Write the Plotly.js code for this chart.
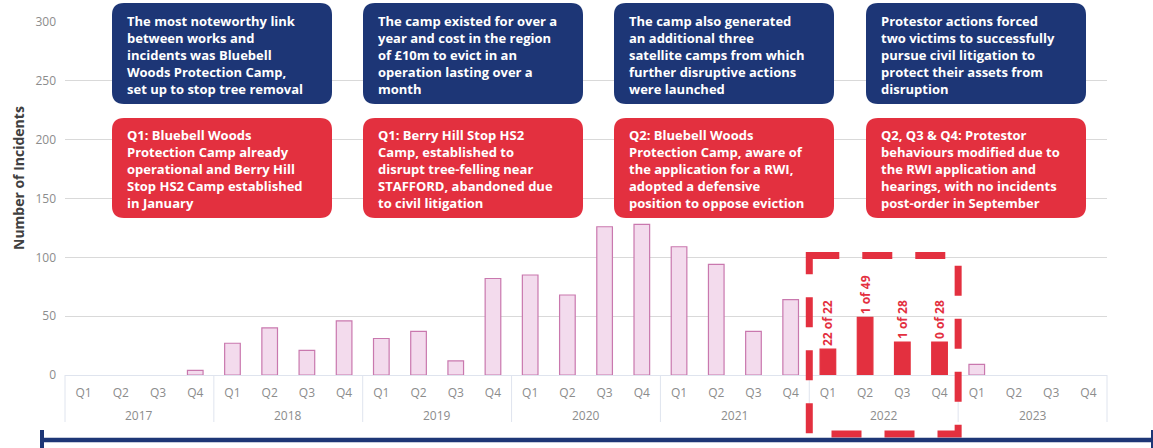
<!DOCTYPE html>
<html>
<head>
<meta charset="utf-8">
<script src="https://cdn.plot.ly/plotly-3.0.1.min.js"></script>
<style>html,body{margin:0;padding:0;background:#fff;}#chart{width:1153px;height:448px;}</style>
</head>
<body>
<div id="chart"></div>
<script>
// ---- data ----
var years = ['2017','2018','2019','2020','2021','2022','2023'];
var quarters = ['Q1','Q2','Q3','Q4'];
var incidents = [
  0, 0, 0, 4,        // 2017
  27, 40, 21, 46,    // 2018
  31, 37, 12, 82,    // 2019
  85, 68, 126, 128,  // 2020
  109, 94, 37, 64,   // 2021
  22, 49, 28, 28,    // 2022
  9, 0, 0, 0         // 2023
];
var highlightYear = '2022';
var highlightLabels = ['22 of 22', '1 of 49', '1 of 28', '0 of 28'];
var yTicks = [0, 50, 100, 150, 200, 250, 300];
var topNotes = [
  'The most noteworthy link<br>between works and<br>incidents was Bluebell<br>Woods Protection Camp,<br>set up to stop tree removal',
  'The camp existed for over a<br>year and cost in the region<br>of £10m to evict in an<br>operation lasting over a<br>month',
  'The camp also generated<br>an additional three<br>satellite camps from which<br>further disruptive actions<br>were launched',
  'Protestor actions forced<br>two victims to successfully<br>pursue civil litigation to<br>protect their assets from<br>disruption'
];
var bottomNotes = [
  'Q1: Bluebell Woods<br>Protection Camp already<br>operational and Berry Hill<br>Stop HS2 Camp established<br>in January',
  'Q1: Berry Hill Stop HS2<br>Camp, established to<br>disrupt tree-felling near<br>STAFFORD, abandoned due<br>to civil litigation',
  'Q2: Bluebell Woods<br>Protection Camp, aware of<br>the application for a RWI,<br>adopted a defensive<br>position to oppose eviction',
  'Q2, Q3 & Q4: Protestor<br>behaviours modified due to<br>the RWI application and<br>hearings, with no incidents<br>post-order in September'
];

// ---- build ----
var W = 1153, H = 448;
var M = {l: 65, r: 46, t: 22, b: 73};
var PW = W - M.l - M.r, PH = H - M.t - M.b;
function px(x){ return (x - M.l) / PW; }
function py(y){ return (H - M.b - y) / PH; }

var NAVY = '#1d3676', RED = '#e3303f', PINK = '#f3dbed', PINKLINE = '#c978ae';
var AXISLINE = '#dfe4ee', TICKGREY = '#8c8c8c';

var xKeys = [], xQ = [], colors = [], lineColors = [], lineWidths = [], texts = [];
var k = 0;
years.forEach(function(y){
  quarters.forEach(function(q, qi){
    xKeys.push(y + ' ' + q); xQ.push(q);
    var hi = (y === highlightYear);
    colors.push(hi ? RED : PINK);
    lineColors.push(hi ? RED : PINKLINE);
    lineWidths.push(incidents[k] > 0 ? 1.2 : 0);
    texts.push(hi ? highlightLabels[qi] : '');
    k++;
  });
});
var nCat = xKeys.length;
var perYear = quarters.length;

var trace = {
  type: 'bar',
  x: xKeys,
  y: incidents,
  marker: {color: colors, line: {color: lineColors, width: lineWidths}},
  text: texts,
  textposition: 'outside',
  textangle: -90,
  constraintext: 'none',
  cliponaxis: false,
  textfont: {family: 'Open Sans', size: 12, color: RED, weight: 'bold'},
  hoverinfo: 'x+y'
};

function roundRect(x0, y0, x1, y1, r){
  var rx = r / PW, ry = r / PH;
  var L = px(x0), R = px(x1), T = py(y0), B = py(y1);
  return 'M' + (L+rx) + ',' + T + ' L' + (R-rx) + ',' + T +
    ' Q' + R + ',' + T + ' ' + R + ',' + (T-ry) +
    ' L' + R + ',' + (B+ry) + ' Q' + R + ',' + B + ' ' + (R-rx) + ',' + B +
    ' L' + (L+rx) + ',' + B + ' Q' + L + ',' + B + ' ' + L + ',' + (B+ry) +
    ' L' + L + ',' + (T-ry) + ' Q' + L + ',' + T + ' ' + (L+rx) + ',' + T + ' Z';
}

var shapes = [], annotations = [];

// year group labels and dividers
for (var j = 0; j <= years.length; j++){
  var xd = (j * perYear) / nCat;
  shapes.push({type: 'line', xref: 'paper', yref: 'paper', layer: 'below',
    x0: xd, x1: xd, y0: py(375), y1: py(422), line: {color: AXISLINE, width: 1}});
}
years.forEach(function(y, j){
  annotations.push({xref: 'x', yref: 'paper', x: j * perYear + (perYear - 1) / 2, y: py(415),
    xanchor: 'center', yanchor: 'middle', showarrow: false, text: y,
    font: {family: 'Open Sans', size: 12, color: TICKGREY}});
});

var boxLeft = [112, 363, 614, 866], boxW = 220;
var topBox = [3, 104], botBox = [118, 218];
for (var i = 0; i < 4; i++){
  shapes.push({type: 'path', xref: 'paper', yref: 'paper', layer: 'above',
    path: roundRect(boxLeft[i], topBox[0], boxLeft[i] + boxW, topBox[1], 12),
    fillcolor: NAVY, line: {width: 0}});
  shapes.push({type: 'path', xref: 'paper', yref: 'paper', layer: 'above',
    path: roundRect(boxLeft[i], botBox[0], boxLeft[i] + boxW, botBox[1], 12),
    fillcolor: RED, line: {width: 0}});
  annotations.push({xref: 'paper', yref: 'paper', x: px(boxLeft[i] + 13), y: py((topBox[0] + topBox[1]) / 2 + 1),
    xanchor: 'left', yanchor: 'middle', align: 'left', showarrow: false, text: topNotes[i],
    font: {family: 'Open Sans', size: 13, color: '#ffffff', weight: 'bold'}});
  annotations.push({xref: 'paper', yref: 'paper', x: px(boxLeft[i] + 13), y: py((botBox[0] + botBox[1]) / 2 + 1),
    xanchor: 'left', yanchor: 'middle', align: 'left', showarrow: false, text: bottomNotes[i],
    font: {family: 'Open Sans', size: 13, color: '#ffffff', weight: 'bold'}});
}

// dashed highlight rectangle around the highlighted year
var hiYearIdx = years.indexOf(highlightYear);
var hx0 = (hiYearIdx * perYear) / nCat, hx1 = ((hiYearIdx + 1) * perYear) / nCat;
var hyT = py(255.5), hyB = py(434);
shapes.push({type: 'path', xref: 'paper', yref: 'paper', layer: 'above',
  path: 'M' + hx0 + ',' + hyT + ' L' + hx1 + ',' + hyT + ' L' + hx1 + ',' + hyB + ' L' + hx0 + ',' + hyB + ' Z',
  line: {color: RED, width: 7, dash: '30px,23px'}});

// navy timeline at bottom
var lineY = py(440);
shapes.push({type: 'line', xref: 'paper', yref: 'paper', x0: px(42), x1: px(1152), y0: lineY, y1: lineY,
  line: {color: NAVY, width: 4.5}});
shapes.push({type: 'line', xref: 'paper', yref: 'paper', x0: px(42), x1: px(42), y0: py(430), y1: py(452),
  line: {color: NAVY, width: 4}});
shapes.push({type: 'line', xref: 'paper', yref: 'paper', x0: px(1152), x1: px(1152), y0: py(430), y1: py(452),
  line: {color: NAVY, width: 2}});

// y-axis title
annotations.push({xref: 'paper', yref: 'paper', x: px(18), y: py(178), textangle: -90,
  xanchor: 'center', yanchor: 'middle', showarrow: false, text: 'Number of Incidents',
  font: {family: 'Open Sans', size: 14, color: '#404040', weight: 'bold'}});

var layout = {
  width: W, height: H,
  margin: M,
  paper_bgcolor: '#ffffff', plot_bgcolor: '#ffffff',
  showlegend: false,
  bargap: 0.58,
  font: {family: 'Open Sans', size: 12, color: TICKGREY},
  xaxis: {
    type: 'category',
    range: [-0.5, nCat - 0.5],
    tickvals: xKeys, ticktext: xQ,
    showgrid: false,
    showline: true, linecolor: AXISLINE, linewidth: 1,
    tickfont: {family: 'Open Sans', size: 12, color: TICKGREY},
    ticks: '', ticklabelstandoff: 7, zeroline: false
  },
  yaxis: {
    range: [0, 300],
    tickvals: yTicks,
    showgrid: true, gridcolor: '#d9d9d9', gridwidth: 1,
    zeroline: false, showline: false,
    ticks: '', ticklabelstandoff: 8,
    tickfont: {family: 'Open Sans', size: 12, color: TICKGREY}
  },
  shapes: shapes,
  annotations: annotations
};

Plotly.newPlot('chart', [trace], layout, {displayModeBar: false, staticPlot: true});
</script>
</body>
</html>
